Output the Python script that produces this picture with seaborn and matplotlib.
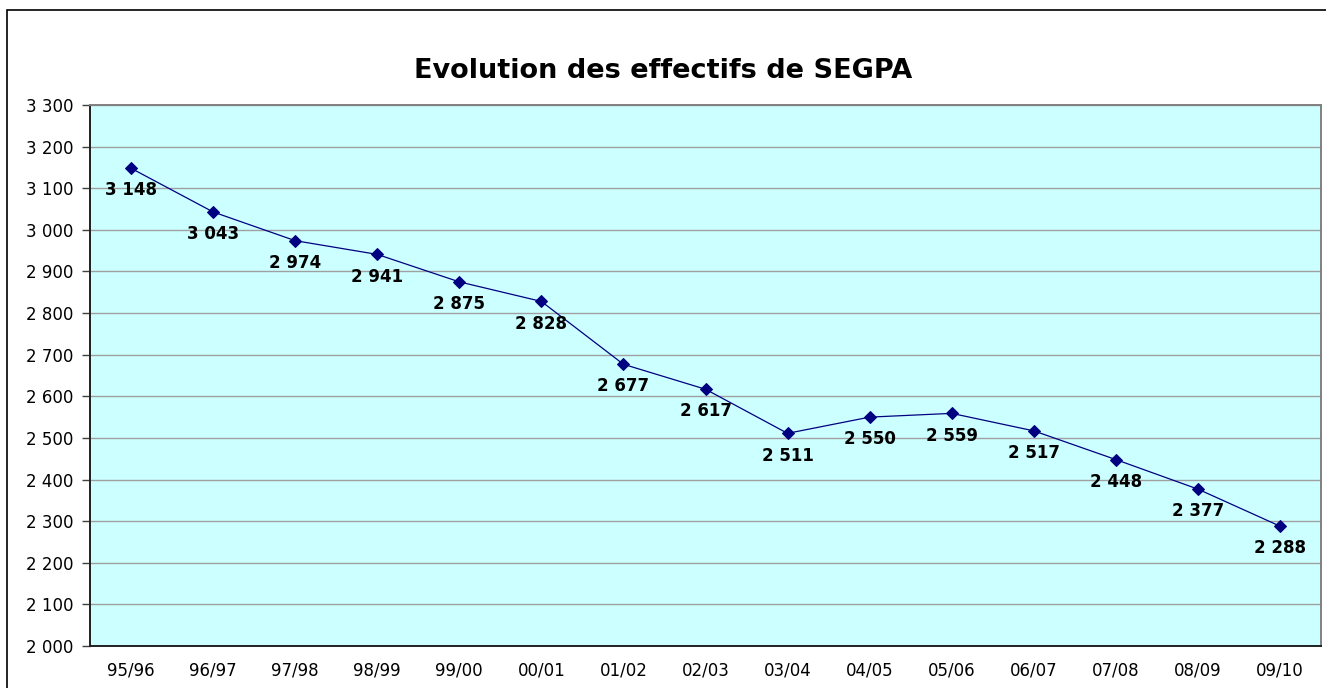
import matplotlib
matplotlib.use("Agg")
import matplotlib.pyplot as plt
from matplotlib.patches import Rectangle
from matplotlib.ticker import FuncFormatter, FixedLocator
import seaborn as sns
import pandas as pd
import numpy as np

# données
annees = ["95/96", "96/97", "97/98", "98/99", "99/00", "00/01", "01/02", "02/03",
          "03/04", "04/05", "05/06", "06/07", "07/08", "08/09", "09/10"]
effectifs = [3148, 3043, 2974, 2941, 2875, 2828, 2677, 2617,
             2511, 2550, 2559, 2517, 2448, 2377, 2288]

df = pd.DataFrame({"annee": annees, "effectif": effectifs})
df["pos"] = np.arange(len(df))

sns.set_style("white")
plt.rcParams['font.family'] = ['DejaVu Sans']
plt.rcParams['text.color'] = 'black'
plt.rcParams['xtick.color'] = 'black'
plt.rcParams['ytick.color'] = 'black'

fig = plt.figure(figsize=(13.26, 6.88), dpi=100)
ax = fig.add_axes([90/1326, 1-646/688, (1321-90)/1326, (646-105)/688])
ax.set_facecolor("#CCFFFF")

# cadre du graphique
fig.patches.append(Rectangle((7/1326, -0.1), 2, 1.1 - 10/688, transform=fig.transFigure,
                             fill=False, edgecolor="black", linewidth=1.2, zorder=0))

sns.lineplot(data=df, x="pos", y="effectif", ax=ax, color="#000080", linewidth=0.9,
             marker="D", markersize=6.5, markeredgecolor="#000080", zorder=3)

for _, r in df.iterrows():
    ax.annotate(f"{r['effectif']:,}".replace(",", " "), (r["pos"], r["effectif"]),
                xytext=(0, -16), textcoords="offset points", ha="center", va="center",
                fontsize=12, fontweight="bold", color="black", zorder=4)

ax.set_xlim(-0.5, len(df) - 0.5)
ax.set_ylim(2000, 3300)
ax.set_yticks(range(2000, 3301, 100))
ax.yaxis.set_major_formatter(FuncFormatter(lambda v, p: f"{int(v):,}".replace(",", " ")))
ax.grid(axis="y", color="#A0A0A0", linewidth=1)
ax.set_axisbelow(True)

ax.set_xticks(df["pos"])
ax.set_xticklabels(df["annee"])
ax.xaxis.set_minor_locator(FixedLocator(np.arange(-0.5, len(df), 1)))
ax.tick_params(axis="x", which="major", length=0, pad=11, labelsize=12, labelcolor="black")
ax.tick_params(axis="x", which="minor", length=6, width=1, color="#404040", direction="out")
ax.tick_params(axis="y", length=6, width=1, color="#404040", direction="out", pad=6,
               labelsize=12, labelcolor="black", left=True)
ax.set_xlabel("")
ax.set_ylabel("")

for s in ["left", "bottom"]:
    ax.spines[s].set_color("#202020")
    ax.spines[s].set_linewidth(1.4)
for s in ["top", "right"]:
    ax.spines[s].set_color("#808080")
    ax.spines[s].set_linewidth(1.4)

fig.text(663/1326, 1-71/688, "Evolution des effectifs de SEGPA", ha="center", va="center",
         fontsize=19.5, fontweight="bold", color="black")

fig.savefig("out.png", dpi=100)
